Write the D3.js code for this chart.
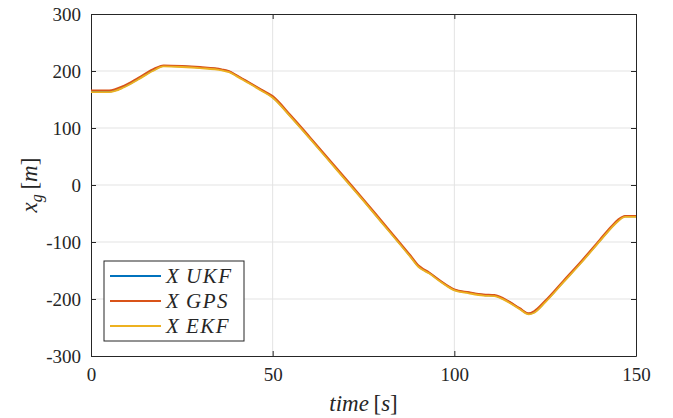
<!DOCTYPE html>
<html>
<head>
<meta charset="utf-8">
<script src="https://cdn.jsdelivr.net/npm/d3@7"></script>
</head>
<body style="margin:0">
<svg id="chart" width="673" height="418"></svg>
<script>
// time samples [s]
var time = [0, 5, 9, 13, 17, 20, 25, 30, 36, 38, 40, 43, 47, 50, 55, 60, 65, 70, 75, 80, 85, 88, 90, 91, 93, 96, 100, 104, 108, 111, 115, 118, 120.5, 122, 125, 130, 135, 140, 143, 145, 147, 150];
var ukf  = [164, 164, 172, 186, 201, 209, 208, 206, 202, 199, 192, 181, 166, 154, 120, 84, 47, 10, -27, -65, -103, -126, -142, -147, -154, -168, -184, -189, -193, -194, -205, -217, -226, -223, -205, -170, -135, -98, -76, -63, -55, -55];
var gps  = [166, 166, 174, 188, 203, 210, 209, 207, 203, 200, 193, 182, 167, 156, 122, 86, 49, 12, -25, -63, -101, -124, -140, -145, -153, -167, -183, -188, -192, -193, -204, -216, -225, -221, -203, -168, -133, -96, -74, -61, -54, -54];
var ekf  = [163, 163, 171, 185, 200, 208, 207, 205, 201, 198, 191, 180, 165, 153, 119, 83, 46, 9, -28, -66, -104, -127, -143, -148, -155, -169, -185, -190, -194, -195, -206, -218, -227, -224, -206, -171, -136, -99, -77, -64, -56, -56];

var xTicks = [0, 50, 100, 150];
var yTicks = [-300, -200, -100, 0, 100, 200, 300];
var seriesNames = ["X\u2009UKF", "X\u2009GPS", "X\u2009EKF"];
var seriesColors = ["#0072BD", "#D95319", "#EDB120"];
var seriesValues = [ukf, gps, ekf];

var FONT = "Liberation Serif";

var svg = d3.select("#chart"),
    margin = {top: 14, right: 37, bottom: 62, left: 91},
    width = 673 - margin.left - margin.right,
    height = 418 - margin.top - margin.bottom;

var g = svg.append("g").attr("transform", "translate(" + margin.left + "," + margin.top + ")");

var x = d3.scaleLinear().domain([0, 150]).range([0, width]);
var y = d3.scaleLinear().domain([-300, 300]).range([height, 0]);

// grid
g.append("g").selectAll("line").data(xTicks.slice(1, -1)).enter().append("line")
  .attr("x1", function(d) { return x(d); }).attr("x2", function(d) { return x(d); })
  .attr("y1", 0).attr("y2", height)
  .attr("stroke", "#e3e3e3").attr("stroke-width", 1);
g.append("g").selectAll("line").data(yTicks.slice(1, -1)).enter().append("line")
  .attr("y1", function(d) { return y(d); }).attr("y2", function(d) { return y(d); })
  .attr("x1", 0).attr("x2", width)
  .attr("stroke", "#e3e3e3").attr("stroke-width", 1);

// axes (ticks pointing inward, box on all four sides)
function styleAxis(sel) {
  sel.attr("font-family", FONT).attr("font-size", 19);
  sel.selectAll("path").attr("stroke", "#262626").attr("stroke-width", 1);
  sel.selectAll("line").attr("stroke", "#262626");
  sel.selectAll("text").attr("fill", "#262626").attr("font-family", FONT);
}
var fmt = function(d) { return String(d); };
var xb = g.append("g").attr("transform", "translate(0," + height + ")")
  .call(d3.axisBottom(x).tickValues(xTicks).tickSizeInner(-5).tickSizeOuter(0).tickPadding(12).tickFormat(fmt));
styleAxis(xb);
var xt = g.append("g").call(d3.axisTop(x).tickValues(xTicks).tickSizeInner(-5).tickSizeOuter(0).tickFormat(""));
styleAxis(xt);
var yl = g.append("g").call(d3.axisLeft(y).tickValues(yTicks).tickSizeInner(-5).tickSizeOuter(0).tickPadding(10).tickFormat(fmt));
styleAxis(yl);
var yr = g.append("g").attr("transform", "translate(" + width + ",0)")
  .call(d3.axisRight(y).tickValues(yTicks).tickSizeInner(-5).tickSizeOuter(0).tickFormat(""));
styleAxis(yr);

// lines
var line = d3.line()
  .x(function(d) { return x(d[0]); })
  .y(function(d) { return y(d[1]); })
  .curve(d3.curveMonotoneX);

for (var s = 0; s < seriesValues.length; s++) {
  g.append("path")
    .datum(d3.zip(time, seriesValues[s]))
    .attr("fill", "none")
    .attr("stroke", seriesColors[s])
    .attr("stroke-width", 1.8)
    .attr("stroke-linejoin", "round")
    .attr("d", line);
}

// axis labels
var xl = svg.append("text")
  .attr("x", margin.left + width / 2).attr("y", 411)
  .attr("text-anchor", "middle")
  .attr("font-family", FONT).attr("font-size", 23).attr("fill", "#262626");
xl.append("tspan").attr("font-style", "italic").text("time");
xl.append("tspan").text("\u2009[");
xl.append("tspan").attr("font-style", "italic").text("s");
xl.append("tspan").text("]");

var ylab = svg.append("text")
  .attr("transform", "translate(37," + (margin.top + height / 2) + ") rotate(-90)")
  .attr("text-anchor", "middle")
  .attr("font-family", FONT).attr("font-size", 23).attr("fill", "#262626");
ylab.append("tspan").attr("font-style", "italic").text("x");
ylab.append("tspan").attr("font-style", "italic").attr("font-size", 16).attr("dy", 5).text("g");
ylab.append("tspan").attr("dy", -5).text("\u2009[");
ylab.append("tspan").attr("font-style", "italic").text("m");
ylab.append("tspan").text("]");

// legend
var lg = svg.append("g").attr("transform", "translate(104,261)");
lg.append("rect").attr("width", 140).attr("height", 80)
  .attr("fill", "#fff").attr("stroke", "#262626").attr("stroke-width", 1);
seriesNames.forEach(function(name, i) {
  var yy = 15 + i * 25;
  lg.append("line").attr("x1", 6).attr("x2", 57).attr("y1", yy).attr("y2", yy)
    .attr("stroke", seriesColors[i]).attr("stroke-width", 2);
  lg.append("text").attr("x", 62).attr("y", yy + 7)
    .attr("font-family", FONT).attr("font-size", 21).attr("font-style", "italic")
    .attr("letter-spacing", 1.5).attr("fill", "#262626")
    .text(name);
});
</script>
</body>
</html>
